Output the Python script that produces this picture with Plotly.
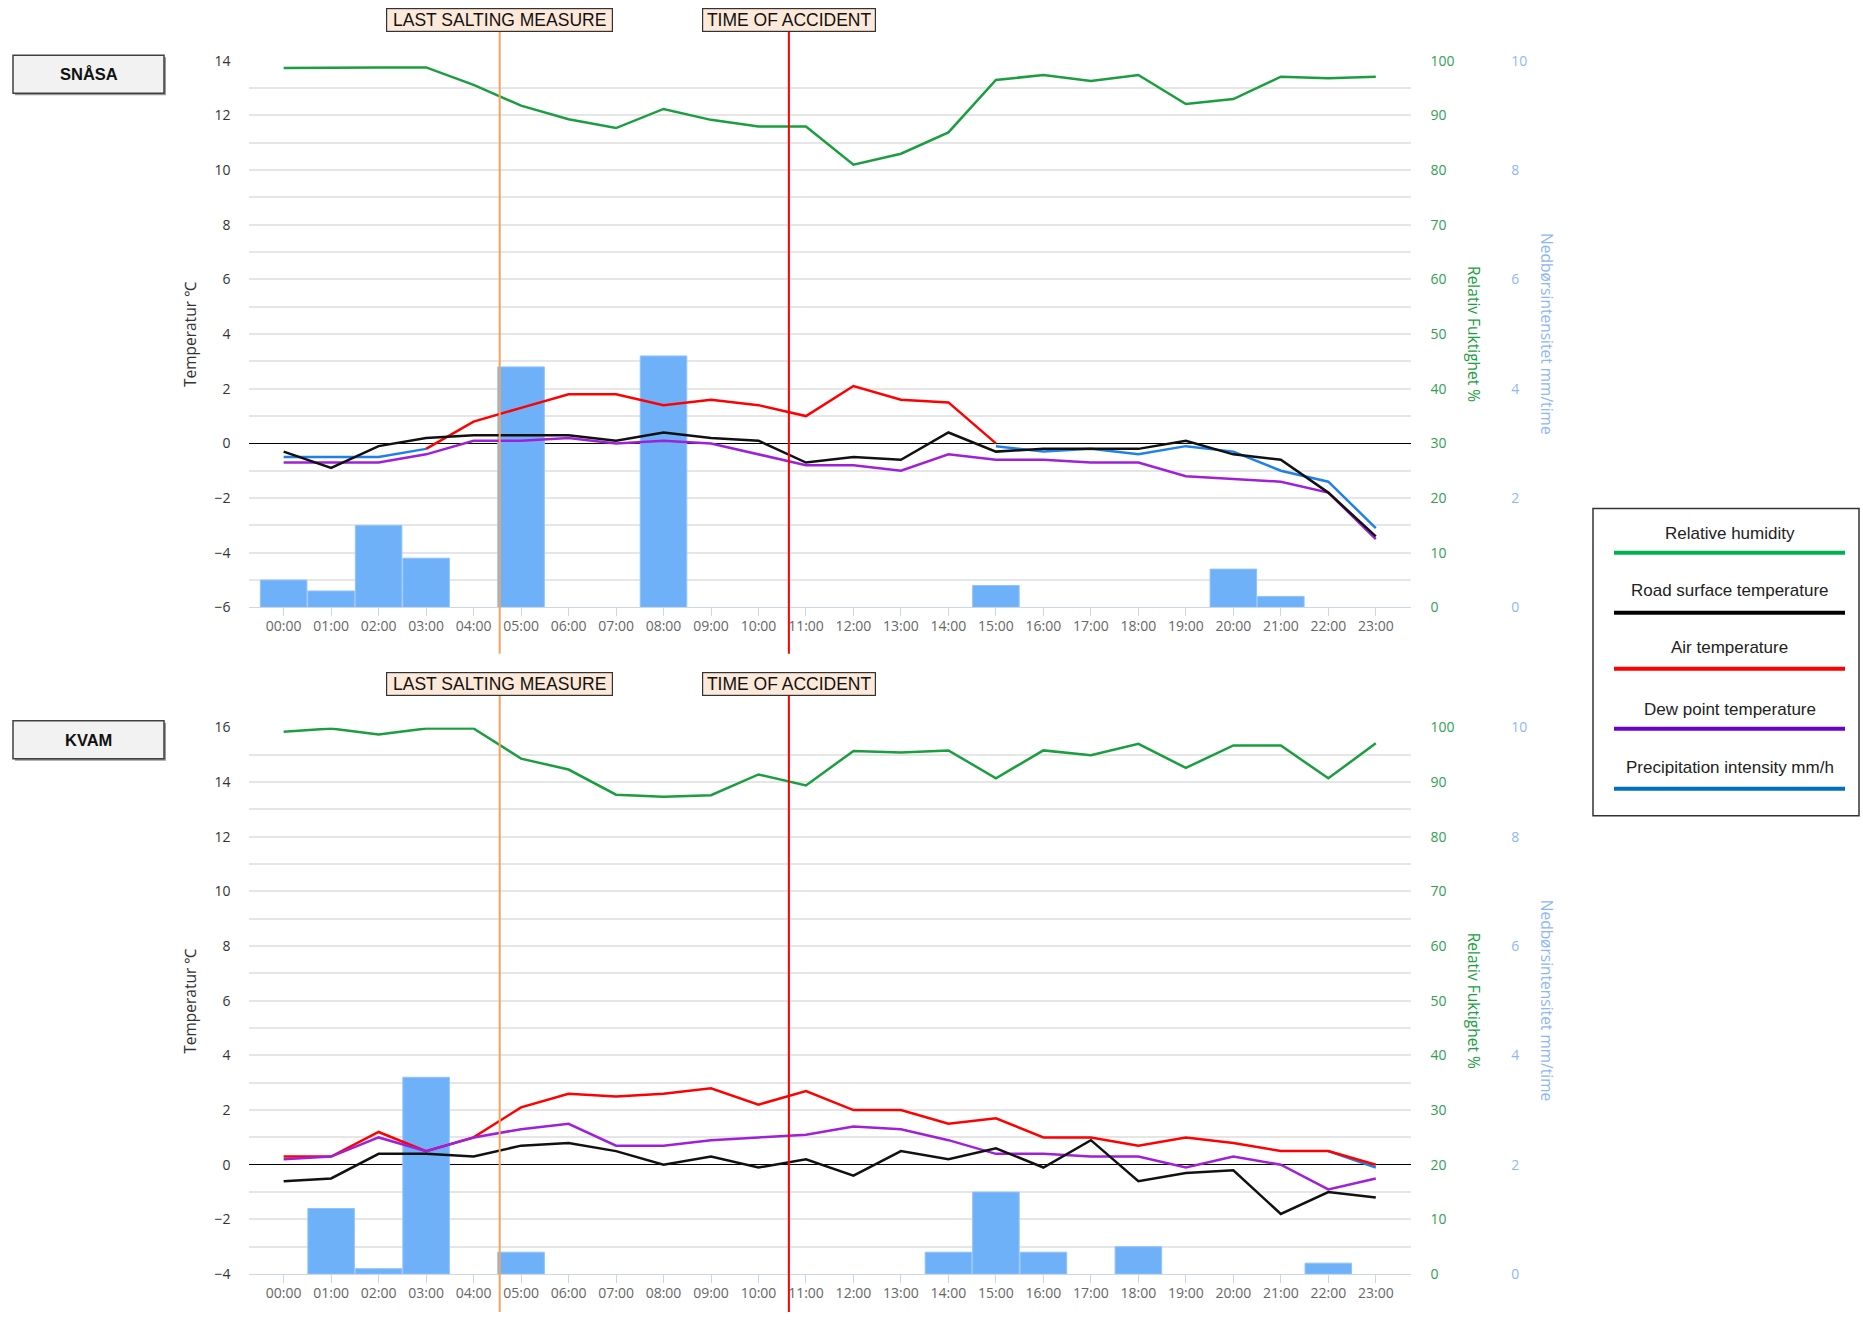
import plotly.graph_objects as go

# ---------------- data ----------------
hours = ["00:00", "01:00", "02:00", "03:00", "04:00", "05:00", "06:00", "07:00",
         "08:00", "09:00", "10:00", "11:00", "12:00", "13:00", "14:00", "15:00",
         "16:00", "17:00", "18:00", "19:00", "20:00", "21:00", "22:00", "23:00"]

# SNÅSA
snasa_humidity = [98.7, 98.8, 98.8, 98.8, 95.6, 91.8, 89.3, 87.7, 91.2, 89.2, 88.0, 88.0,
                  81.0, 83.0, 86.9, 96.5, 97.4, 96.3, 97.4, 92.1, 93.0, 97.1, 96.8, 97.1]
snasa_road = [-0.3, -0.9, -0.1, 0.2, 0.3, 0.3, 0.3, 0.1, 0.4, 0.2, 0.1, -0.7,
              -0.5, -0.6, 0.4, -0.3, -0.2, -0.2, -0.2, 0.1, -0.4, -0.6, -1.8, -3.4]
snasa_air = [None, None, None, -0.2, 0.8, 1.3, 1.8, 1.8, 1.4, 1.6, 1.4, 1.0,
             2.1, 1.6, 1.5, 0.0, None, None, None, None, None, None, None, None]
snasa_dew = [-0.7, -0.7, -0.7, -0.4, 0.1, 0.1, 0.2, 0.0, 0.1, 0.0, -0.4, -0.8,
             -0.8, -1.0, -0.4, -0.6, -0.6, -0.7, -0.7, -1.2, -1.3, -1.4, -1.8, -3.5]
snasa_blue = [-0.5, -0.5, -0.5, -0.2, None, None, None, None, None, None, None, None,
              None, None, None, -0.1, -0.3, -0.2, -0.4, -0.1, -0.3, -1.0, -1.4, -3.1]
snasa_precip = [0.5, 0.3, 1.5, 0.9, None, 4.4, None, None, 4.6, None, None, None,
                None, None, None, 0.4, None, None, None, None, 0.7, 0.2, None, None]

# KVAM
kvam_humidity = [99.2, 99.8, 98.7, 99.8, 99.8, 94.3, 92.3, 87.7, 87.3, 87.6, 91.4, 89.4,
                 95.7, 95.4, 95.8, 90.7, 95.8, 94.9, 97.0, 92.6, 96.7, 96.7, 90.7, 97.1]
kvam_road = [-0.6, -0.5, 0.4, 0.4, 0.3, 0.7, 0.8, 0.5, 0.0, 0.3, -0.1, 0.2,
             -0.4, 0.5, 0.2, 0.6, -0.1, 0.9, -0.6, -0.3, -0.2, -1.8, -1.0, -1.2]
kvam_air = [0.3, 0.3, 1.2, 0.5, 1.0, 2.1, 2.6, 2.5, 2.6, 2.8, 2.2, 2.7,
            2.0, 2.0, 1.5, 1.7, 1.0, 1.0, 0.7, 1.0, 0.8, 0.5, 0.5, 0.0]
kvam_dew = [0.2, 0.3, 1.0, 0.5, 1.0, 1.3, 1.5, 0.7, 0.7, 0.9, 1.0, 1.1,
            1.4, 1.3, 0.9, 0.4, 0.4, 0.3, 0.3, -0.1, 0.3, 0.0, -0.9, -0.5]
kvam_blue = [None, None, None, None, None, None, None, None, None, None, None, None,
             None, None, None, None, None, None, None, None, None, None, 0.5, -0.1]
kvam_precip = [None, 1.2, 0.1, 3.6, None, 0.4, None, None, None, None, None, None,
               None, None, 0.4, 1.5, 0.4, None, 0.5, None, None, None, 0.2, None]

salting_time = 4.55     # position on the hour axis (category units)
accident_time = 10.64

legend_items = ["Relative humidity", "Road surface temperature", "Air temperature",
                "Dew point temperature", "Precipitation intensity mm/h"]
legend_colors = ["#00b050", "#000000", "#ff0000", "#6a00cc", "#0070c0"]

# ---------------- styling ----------------
W, H = 1863, 1321
GREEN = "#1a9e3f"
RED = "#ff0000"
PURPLE = "#a020d8"
BLUE = "#1f80e8"
BLACK = "#111111"
BAR = "#6fb1f9"
GRID = "#e6e6e6"
FONT = "Open Sans, sans-serif"
TICKFONT = dict(family=FONT, size=14, color="#333333")


def fy(px):
    """paper y for a target pixel row (compensates the capture's vertical fit)."""
    return 1 - ((px - 9.7) / 0.985) / H


def fx(px):
    return px / W


XDOM = [0.1339, 0.7576]
XRANGE = [-0.72, 23.75]
TOP_DOM = [fy(606.7), fy(60.5)]
BOT_DOM = [fy(1273.0), fy(726.7)]
HUM_POS = 0.7673
PRE_POS = 0.8107

fig = go.Figure()


def add_panel(xa, ya_pre, ya_hum, ya_tmp, precip, hum, blue, air, dew, road):
    fig.add_trace(go.Bar(x=hours, y=precip, xaxis=xa, yaxis=ya_pre,
                         marker=dict(color=BAR, line=dict(color="#8fc3fb", width=1)),
                         width=0.98, showlegend=False))
    fig.add_trace(go.Scatter(x=hours, y=hum, xaxis=xa, yaxis=ya_hum, mode="lines",
                             line=dict(color=GREEN, width=2.5), showlegend=False))
    for vals, col in [(blue, BLUE), (air, RED), (dew, PURPLE), (road, BLACK)]:
        fig.add_trace(go.Scatter(x=hours, y=vals, xaxis=xa, yaxis=ya_tmp, mode="lines",
                                 line=dict(color=col, width=2.5), showlegend=False,
                                 connectgaps=False))


add_panel("x", "y", "y2", "y3", snasa_precip, snasa_humidity, snasa_blue,
          snasa_air, snasa_dew, snasa_road)
add_panel("x2", "y4", "y5", "y6", kvam_precip, kvam_humidity, kvam_blue,
          kvam_air, kvam_dew, kvam_road)

xaxis_common = dict(domain=XDOM, type="category", categoryorder="array",
                    categoryarray=hours, range=XRANGE, showgrid=False,
                    showline=True, linecolor="#ccd6eb", linewidth=1,
                    ticks="outside", ticklen=8, tickcolor="#ccd6eb",
                    ticklabelstandoff=-2,
                    tickfont=dict(family=FONT, size=14, color="#666666"),
                    zeroline=False, fixedrange=True)


def pre_axis(dom):
    return dict(domain=dom, range=[0, 10], anchor="free", position=PRE_POS, side="right",
                showgrid=False, zeroline=False, showline=False, ticks="",
                tickvals=[0, 2, 4, 6, 8, 10],
                tickfont=dict(family=FONT, size=14, color="#8fb7f7"))


def hum_axis(over):
    return dict(overlaying=over, range=[0, 100], anchor="free", position=HUM_POS,
                side="right", showgrid=False, zeroline=False, showline=False, ticks="",
                tickvals=[0, 10, 20, 30, 40, 50, 60, 70, 80, 90, 100],
                tickfont=dict(family=FONT, size=14, color="#2f9e57"))


def tmp_axis(over, anchor, rng):
    return dict(overlaying=over, anchor=anchor, side="left", range=rng,
                dtick=2, tick0=0, showgrid=True, gridcolor=GRID, gridwidth=1.5,
                minor=dict(dtick=1, showgrid=True, gridcolor=GRID, gridwidth=1.5),
                zeroline=True, zerolinecolor="#000000", zerolinewidth=1.2,
                showline=False, ticks="", ticklabelstandoff=18, tickfont=TICKFONT)


fig.update_layout(
    width=W, height=H, autosize=False,
    margin=dict(l=0, r=0, t=0, b=0),
    paper_bgcolor="white", plot_bgcolor="white",
    bargap=0.02, showlegend=False,
    xaxis=dict(anchor="y3", **xaxis_common),
    xaxis2=dict(anchor="y6", **xaxis_common),
    yaxis=pre_axis(TOP_DOM),
    yaxis2=hum_axis("y"),
    yaxis3=tmp_axis("y", "x", [-6, 14]),
    yaxis4=pre_axis(BOT_DOM),
    yaxis5=hum_axis("y4"),
    yaxis6=tmp_axis("y4", "x2", [-4, 16]),
)

shapes = []
annotations = []

# event lines and labels
for xref, y0, y1, lab_y in [("x", fy(653), fy(31), fy(19.5)),
                            ("x2", 0.0, fy(695), fy(683.5))]:
    shapes.append(dict(type="line", xref=xref, yref="paper", x0=salting_time, x1=salting_time,
                       y0=y0, y1=y1, line=dict(color="#f4a460", width=2)))
    shapes.append(dict(type="line", xref=xref, yref="paper", x0=accident_time, x1=accident_time,
                       y0=y0, y1=y1, line=dict(color="#ff0000", width=2)))
    for txt, xv, wd in [("LAST SALTING MEASURE", salting_time, 223),
                        ("TIME OF ACCIDENT", accident_time, 170)]:
        annotations.append(dict(text=txt, xref=xref, yref="paper", x=xv, y=lab_y,
                                showarrow=False, xanchor="center", yanchor="middle",
                                width=wd, height=20, align="center",
                                bgcolor="#fde9d9", bordercolor="#333333", borderwidth=1.2,
                                borderpad=1,
                                font=dict(family="Liberation Sans, Arial, sans-serif",
                                          size=17.5, color="#111111")))

# station labels
for name, yc in [("SNÅSA", 74), ("KVAM", 739)]:
    shapes.append(dict(type="rect", xref="paper", yref="paper",
                       x0=fx(15), x1=fx(166), y0=fy(yc + 21), y1=fy(yc - 17),
                       fillcolor="#9a9a9a", line=dict(width=0)))
    shapes.append(dict(type="rect", xref="paper", yref="paper",
                       x0=fx(13), x1=fx(164), y0=fy(yc + 19), y1=fy(yc - 19),
                       fillcolor="#f2f2f2", line=dict(color="#404040", width=1.5)))
    annotations.append(dict(text="<b>" + name + "</b>", xref="paper", yref="paper",
                            x=fx(88.5), y=fy(yc), showarrow=False,
                            xanchor="center", yanchor="middle",
                            font=dict(family="Liberation Sans, Arial, sans-serif",
                                      size=16.5, color="#111111")))

# axis titles
for yc in [(TOP_DOM[0] + TOP_DOM[1]) / 2, (BOT_DOM[0] + BOT_DOM[1]) / 2]:
    annotations.append(dict(text="Temperatur ℃", xref="paper", yref="paper",
                            x=fx(190), y=yc, showarrow=False, textangle=-90,
                            xanchor="center", yanchor="middle",
                            font=dict(family=FONT, size=15.5, color="#333333")))
    annotations.append(dict(text="Relativ Fuktighet %", xref="paper", yref="paper",
                            x=fx(1474), y=yc, showarrow=False, textangle=90,
                            xanchor="center", yanchor="middle",
                            font=dict(family=FONT, size=15.5, color=GREEN)))
    annotations.append(dict(text="Nedbørsintensitet mm/time", xref="paper", yref="paper",
                            x=fx(1547), y=yc, showarrow=False, textangle=90,
                            xanchor="center", yanchor="middle",
                            font=dict(family=FONT, size=15.5, color="#8fb7f7")))

# custom legend box
shapes.append(dict(type="rect", xref="paper", yref="paper",
                   x0=fx(1593), x1=fx(1859), y0=fy(815), y1=fy(508),
                   fillcolor="white", line=dict(color="#333333", width=1.5)))
text_ys = [533, 590, 647, 709, 767]
line_ys = [552, 612, 668, 728, 788]
for lab, col, ty, ly in zip(legend_items, legend_colors, text_ys, line_ys):
    annotations.append(dict(text=lab, xref="paper", yref="paper", x=fx(1729.5), y=fy(ty),
                            showarrow=False, xanchor="center", yanchor="middle",
                            font=dict(family="Liberation Sans, Arial, sans-serif",
                                      size=17, color="#222222")))
    shapes.append(dict(type="line", xref="paper", yref="paper",
                       x0=fx(1614), x1=fx(1845), y0=fy(ly), y1=fy(ly),
                       line=dict(color=col, width=4)))

fig.update_layout(shapes=shapes, annotations=annotations)
fig.write_html("out.html",
               config={"displayModeBar": False},
               post_script="document.body.style.margin='0px';"
                           "document.body.style.overflow='hidden';")
